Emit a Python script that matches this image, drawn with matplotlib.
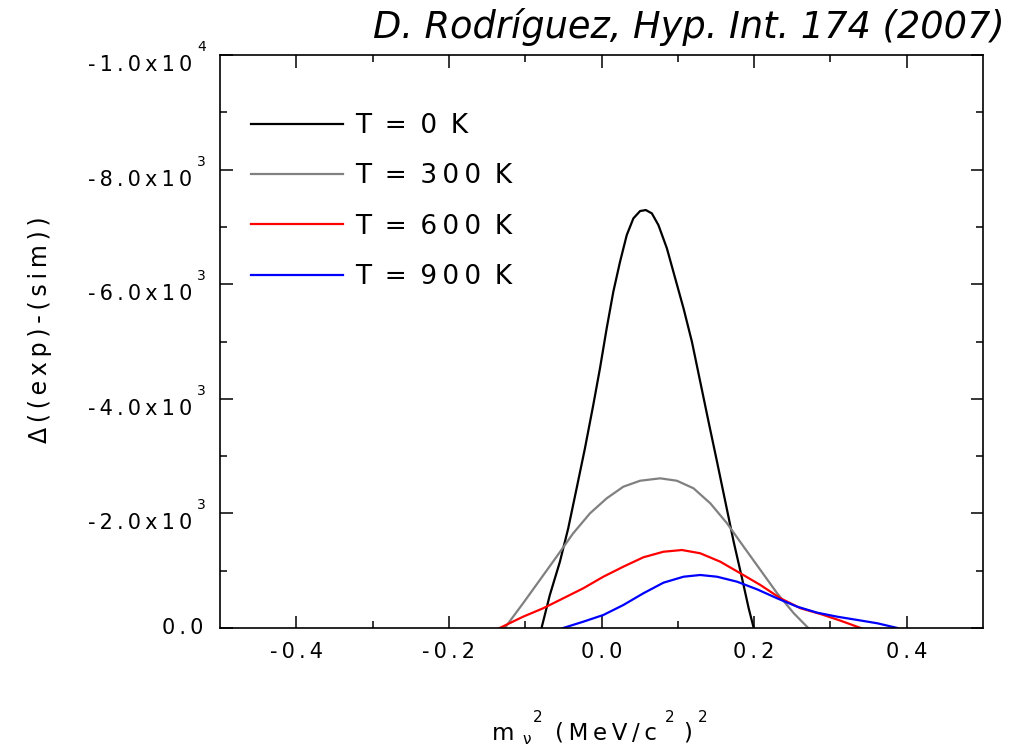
#!/usr/bin/env python3

import numpy as np
import matplotlib
matplotlib.use("Agg")
import matplotlib.pyplot as plt
from matplotlib import transforms

plt.rcParams['font.family'] = ['DejaVu Sans']

# data
x_0k = [-0.0786, -0.0677, -0.0545, -0.0436, -0.0326, -0.0217, -0.0108, -0.0020,
        0.0068, 0.0155, 0.0243, 0.0331, 0.0418, 0.0506, 0.0581, 0.0660, 0.0746,
        0.0857, 0.0966, 0.1075, 0.1185, 0.1294, 0.1403, 0.1514, 0.1623, 0.1732,
        0.1842, 0.1929, 0.1995]
y_0k = [0, -576, -1157, -1740, -2438, -3136, -3891, -4532,
        -5230, -5869, -6392, -6858, -7149, -7277, -7294, -7236, -7032,
        -6626, -6102, -5579, -4996, -4298, -3600, -2902, -2204, -1506,
        -867, -344, 0]

x_300k = [-0.1268, -0.1028, -0.0808, -0.0589, -0.0371, -0.0151, 0.0068, 0.0286,
          0.0506, 0.0769, 0.0988, 0.1206, 0.1426, 0.1645, 0.1863, 0.2083,
          0.2302, 0.2520, 0.2710]
y_300k = [0, -431, -838, -1244, -1653, -2001, -2263, -2466,
          -2570, -2612, -2570, -2438, -2176, -1827, -1419, -1012,
          -606, -257, 0]

x_600k = [-0.1334, -0.1028, -0.0765, -0.0502, -0.0239, 0.0024, 0.0286, 0.0549,
          0.0812, 0.1054, 0.1294, 0.1557, 0.1820, 0.2083, 0.2346, 0.2609,
          0.2871, 0.3134, 0.3397]
y_600k = [0, -197, -344, -518, -693, -895, -1070, -1234,
          -1331, -1361, -1304, -1157, -955, -750, -518, -344,
          -244, -127, 0]

x_900k = [-0.0502, -0.0239, 0.0024, 0.0286, 0.0549, 0.0812, 0.1075, 0.1294,
          0.1514, 0.1777, 0.2039, 0.2302, 0.2565, 0.2828, 0.3091, 0.3354,
          0.3616, 0.3879]
y_900k = [0, -110, -227, -401, -606, -791, -895, -925,
          -895, -808, -675, -518, -372, -267, -197, -140,
          -82, 0]

labels = ["T = 0 K", "T = 300 K", "T = 600 K", "T = 900 K"]
colors = ["black", "#808080", "#ff0000", "#0000ff"]

xticks_major = [-0.4, -0.2, 0.0, 0.2, 0.4]
xticks_minor = [-0.3, -0.1, 0.1, 0.3]
yticks_major = [0, -2000, -4000, -6000, -8000, -10000]
yticks_minor = [-1000, -3000, -5000, -7000, -9000]

THIN = "\u2009"


def spaced(s):
    return THIN.join(s)


W, H = 1014, 750
fig = plt.figure(figsize=(W / 100, H / 100), dpi=100)
ax = fig.add_axes([220 / W, 1 - 628 / H, 763 / W, 573 / H])

series = [(x_0k, y_0k), (x_300k, y_300k), (x_600k, y_600k), (x_900k, y_900k)]
for (xs, ys), lab, col in zip(series, labels, colors):
    ax.plot(xs, ys, color=col, lw=1.6, label=lab)

ax.set_xlim(-0.5, 0.5)
ax.set_ylim(0, -10000)

ax.set_xticks(xticks_major)
ax.set_xticks(xticks_minor, minor=True)
ax.set_xticklabels([spaced(f"{v:.1f}") for v in xticks_major], fontsize=15)
ax.set_yticks(yticks_major)
ax.set_yticks(yticks_minor, minor=True)
ax.set_yticklabels([])

ax.tick_params(which="both", direction="in", top=True, right=True, width=1.1)
ax.tick_params(which="major", length=9, pad=10)
ax.tick_params(which="minor", length=5)
for sp in ax.spines.values():
    sp.set_linewidth(1.2)

# y tick labels: mantissa x 10 with a raised exponent
trans = transforms.blended_transform_factory(ax.transAxes, ax.transData)
for v in yticks_major:
    if v == 0:
        ax.text(-17 / 763, v, spaced("0.0"), transform=trans, ha="right",
                va="center", fontsize=15)
        continue
    e = int(np.floor(np.log10(abs(v))))
    m = v / 10 ** e
    main = spaced(f"{m:.1f}x10")
    t_main = transforms.offset_copy(trans, fig=fig, x=0, y=-10, units="dots")
    ax.text(-28 / 763, v, main, transform=t_main, ha="right", va="center",
            fontsize=15)
    t_sup = transforms.offset_copy(trans, fig=fig, x=0, y=8, units="dots")
    ax.text(-23 / 763, v, str(e), transform=t_sup, ha="left", va="center",
            fontsize=10)

ax.set_ylabel(spaced("Δ((exp)-(sim))"), fontsize=17, va="center")
ax.yaxis.set_label_coords(-180 / 763, 0.52)


# x axis label built from pieces
def ftext(px, py, s, **kw):
    fig.text(px / W, 1 - py / H, s, **kw)


ftext(492, 740, "m", fontsize=16.5, va="baseline")
ftext(522, 744, "ν", fontsize=11, va="baseline")
ftext(533, 722, "2", fontsize=11, va="baseline")
ftext(555, 740, spaced("(MeV/c"), fontsize=16.5, va="baseline")
ftext(665, 722, "2", fontsize=11, va="baseline")
ftext(683, 740, ")", fontsize=16.5, va="baseline")
ftext(698, 722, "2", fontsize=11, va="baseline")

ftext(1005, 38, "D. Rodríguez, Hyp. Int. 174 (2007)", fontsize=26.5,
      style="italic", ha="right", va="baseline")

leg = ax.legend(loc="upper left", bbox_to_anchor=(31 / 763, (628 - 113) / 573),
                frameon=False, fontsize=19, handlelength=3.5,
                handletextpad=0.45, labelspacing=0.92, borderpad=0,
                borderaxespad=0)
gap = " " + THIN
for t, lab in zip(leg.get_texts(), labels):
    parts = lab.split(" ")
    t.set_text(gap.join([parts[0], parts[1], spaced(parts[2]), parts[3]]))

fig.savefig("out.png", dpi=100)
